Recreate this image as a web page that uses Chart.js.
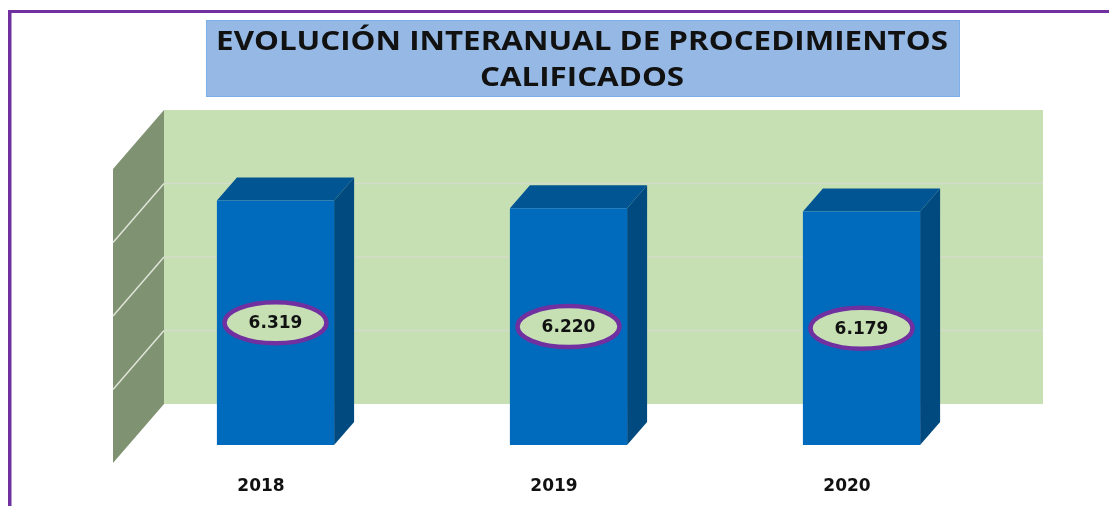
<!DOCTYPE html>
<html lang="es">
<head>
<meta charset="utf-8">
<title>Evolución interanual de procedimientos calificados</title>
<script src="https://cdn.jsdelivr.net/npm/chart.js@4"></script>
<style>
    html, body { margin: 0; padding: 0; background: #fff; overflow: hidden; }
    #wrap { position: relative; width: 1109px; height: 506px; }
</style>
</head>
<body>
<div id="wrap"><canvas id="chart" width="1109" height="506"></canvas></div>
<script>
// Chart data
const years = ['2018', '2019', '2020'];
const procedures = [6319, 6220, 6179];
const titleLines = ['EVOLUCIÓN INTERANUAL DE PROCEDIMIENTOS', 'CALIFICADOS'];

// Hidden value axis (the reference shows no tick labels)
const axisMin = 3200;
const axisMax = 6950;
const axisStep = 937.5;

// Chart colors
const colors = {
    frame: '#7030a0',
    titleBox: '#95b9e4',
    titleBorder: '#7db0ea',
    wall: '#c6e0b4',
    sideWall: '#7f9272',
    gridBack: '#d3dcc9',
    gridSide: '#dfe5d8',
    barFront: '#006bbd',
    barTop: '#005592',
    barSide: '#004a80',
    text: '#111111'
};

// 3D offsets from the plane the bars stand in
const backWall = { dx: 35, dy: -41 };
const frontEdge = { dx: -16, dy: 18 };
const barDepth = { dx: 20, dy: -23 };

function polygon(ctx, points, fill) {
    ctx.beginPath();
    points.forEach((p, i) => i ? ctx.lineTo(p[0], p[1]) : ctx.moveTo(p[0], p[1]));
    ctx.closePath();
    ctx.fillStyle = fill;
    ctx.fill();
}

// Frame and title box
const framePlugin = {
    id: 'frame',
    beforeDraw(chart) {
        const ctx = chart.ctx;
        ctx.save();
        ctx.fillStyle = colors.frame;
        ctx.fillRect(8, 10, 1101, 3);
        ctx.fillRect(8, 10, 3.5, 496);

        ctx.fillStyle = colors.titleBox;
        ctx.strokeStyle = colors.titleBorder;
        ctx.fillRect(206, 20, 754, 77);
        ctx.strokeRect(206.5, 20.5, 753, 76);

        ctx.fillStyle = colors.text;
        ctx.font = 'bold 27px "Open Sans"';
        ctx.textAlign = 'center';
        ctx.textBaseline = 'middle';
        // the original title is stretched sideways
        titleLines.forEach((line, i) => {
            ctx.save();
            ctx.translate(582, 42 + i * 36);
            ctx.scale(1.16, 1);
            ctx.fillText(line, 0, 0);
            ctx.restore();
        });
        ctx.restore();
    }
};

// Walls, grid lines and the top and side faces of the bars
const depthPlugin = {
    id: 'depth',
    beforeDatasetsDraw(chart) {
        const { ctx, chartArea: { left, right, top, bottom }, scales: { y } } = chart;
        const b = backWall, f = frontEdge;
        ctx.save();
        polygon(ctx, [
            [left + b.dx, top + b.dy], [right + b.dx, top + b.dy],
            [right + b.dx, bottom + b.dy], [left + b.dx, bottom + b.dy]
        ], colors.wall);
        polygon(ctx, [
            [left + f.dx, top + f.dy], [left + b.dx, top + b.dy],
            [left + b.dx, bottom + b.dy], [left + f.dx, bottom + f.dy]
        ], colors.sideWall);

        ctx.lineWidth = 1.5;
        y.ticks.forEach((tick, i) => {
            if (i === 0 || i === y.ticks.length - 1) return;
            const py = y.getPixelForTick(i);
            ctx.strokeStyle = colors.gridSide;
            ctx.beginPath();
            ctx.moveTo(left + f.dx, py + f.dy);
            ctx.lineTo(left + b.dx, py + b.dy);
            ctx.stroke();
            ctx.strokeStyle = colors.gridBack;
            ctx.beginPath();
            ctx.moveTo(left + b.dx, py + b.dy);
            ctx.lineTo(right + b.dx, py + b.dy);
            ctx.stroke();
        });

        chart.getDatasetMeta(0).data.forEach(bar => {
            const x0 = bar.x - bar.width / 2;
            const x1 = bar.x + bar.width / 2;
            const d = barDepth;
            polygon(ctx, [
                [x0, bar.y], [x0 + d.dx, bar.y + d.dy],
                [x1 + d.dx, bar.y + d.dy], [x1, bar.y]
            ], colors.barTop);
            polygon(ctx, [
                [x1, bar.y], [x1 + d.dx, bar.y + d.dy],
                [x1 + d.dx, bar.base + d.dy], [x1, bar.base]
            ], colors.barSide);
        });
        ctx.restore();
    }
};

// Value labels in purple ellipses at the middle of each bar
const ellipsePlugin = {
    id: 'ellipseLabels',
    afterDatasetsDraw(chart) {
        const ctx = chart.ctx;
        ctx.save();
        chart.getDatasetMeta(0).data.forEach((bar, i) => {
            const cy = (bar.y + bar.base) / 2;
            ctx.beginPath();
            ctx.ellipse(bar.x, cy, 51, 20.5, 0, 0, Math.PI * 2);
            ctx.fillStyle = colors.wall;
            ctx.fill();
            ctx.lineWidth = 4.5;
            ctx.strokeStyle = colors.frame;
            ctx.stroke();

            const label = String(procedures[i]).replace(/(\d)(\d{3})$/, '$1.$2');
            ctx.fillStyle = colors.text;
            ctx.font = 'bold 17px "DejaVu Sans"';
            ctx.textAlign = 'center';
            ctx.textBaseline = 'middle';
            ctx.fillText(label, bar.x, cy + 1);
        });
        ctx.restore();
    }
};

new Chart(document.getElementById('chart').getContext('2d'), {
    type: 'bar',
    data: {
        labels: years,
        datasets: [{
            label: 'Procedimientos calificados',
            data: procedures,
            base: axisMin,
            backgroundColor: colors.barFront,
            borderWidth: 0,
            categoryPercentage: 1,
            barPercentage: 0.4
        }]
    },
    options: {
        responsive: false,
        animation: false,
        layout: {
            padding: { left: 129, right: 101, top: 151, bottom: 6 }
        },
        scales: {
            x: {
                grid: { display: false, drawTicks: false },
                border: { display: false },
                afterFit(scale) { scale.height = 55; },
                ticks: {
                    color: colors.text,
                    font: { family: '"DejaVu Sans"', size: 17, weight: 'bold' },
                    padding: 31,
                    labelOffset: -14.5,
                    maxRotation: 0
                }
            },
            y: {
                display: false,
                min: axisMin,
                max: axisMax,
                ticks: { stepSize: axisStep }
            }
        },
        plugins: {
            legend: { display: false },
            tooltip: { enabled: false }
        }
    },
    plugins: [framePlugin, depthPlugin, ellipsePlugin]
});
</script>
</body>
</html>
